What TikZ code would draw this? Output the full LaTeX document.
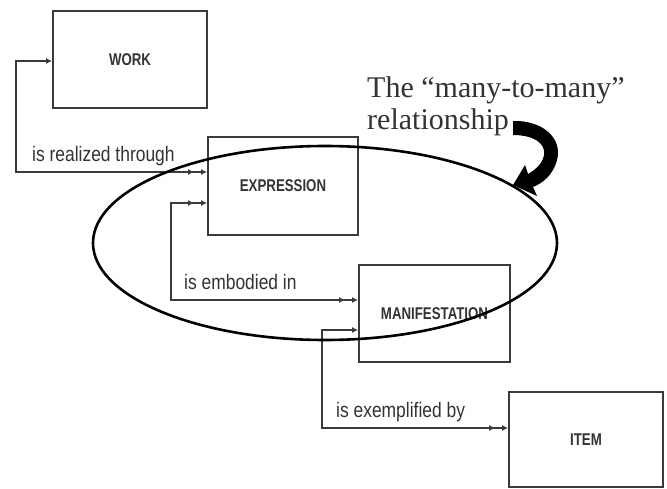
\documentclass[tikz,border=0pt]{standalone}
\usepackage{fontspec}
\setmainfont{Liberation Serif}
\newfontfamily\labsans{Liberation Sans}
\usetikzlibrary{arrows.meta}
\definecolor{ink}{HTML}{333333}
\definecolor{boxline}{HTML}{3A3A3A}
\tikzset{
  entity/.style={draw=boxline, line width=1.8pt, fill=none, inner sep=0pt,
    font=\labsans\bfseries\fontsize{17}{20}\selectfont, text=ink},
  rel/.style={font=\labsans\fontsize{21}{24}\selectfont, text=ink, inner sep=0pt, anchor=base west},
  conn/.style={draw=boxline, line width=1.5pt},
  one/.tip={Latex[length=6pt,width=6pt]},
  two/.tip={Latex[length=6pt,width=6pt,sep=7pt]Latex[length=6pt,width=6pt]},
  note/.style={font=\fontsize{30}{33}\selectfont, text=ink, inner sep=0pt, anchor=base west}
}
\newcommand{\sq}[1]{\scalebox{0.78}[1]{#1}}
\newcommand{\sqr}[1]{\scalebox{0.83}[1]{#1}}
\begin{document}
\begin{tikzpicture}[x=1pt,y=-1pt]
\useasboundingbox[fill=white] (0,0) rectangle (667,489);
% boxes
\node[entity, minimum width=154pt, minimum height=97pt] (work) at (130,59.5) {\sq{WORK}};
\node[entity, minimum width=150pt, minimum height=98pt] (expr) at (283,186) {\sq{EXPRESSION}};
\node[entity, minimum width=151pt, minimum height=97pt] (mani) at (434.5,313.5) {\sq{MANIFESTATION}};
\node[entity, minimum width=154pt, minimum height=95pt] (item) at (586,439.5) {\sq{ITEM}};
% connectors
\draw[conn, {one}-{two}] (work.west |- 0,61) -- (16,61) |- (expr.west |- 0,172);
\draw[conn, {two}-{two}] (expr.west |- 0,203) -- (171,203) |- (mani.west |- 0,300);
\draw[conn, {one}-{two}] (mani.west |- 0,330) -- (322,330) |- (item.west |- 0,428);
% labels
\node[rel] (l1) at (32,162) {\sqr{is realized through}};
\node[rel] (l2) at (184,290) {\sqr{is embodied in}};
\node[rel] (l3) at (336,417) {\sqr{is exemplified by}};
% ellipse
\draw[line width=2.6pt] (325,243) ellipse [x radius=232, y radius=97];
% note
\node[note] (n1) at (367,98) {The “many-to-many”};
\node[note] (n2) at (367,130) {relationship};
% curved arrow
\fill (513,121) .. controls (542,120) and (563,138) .. (557,160)
  .. controls (553,175) and (543,183) .. (533,187) -- (537,196) -- (513,185)
  -- (525,165) -- (528,174) .. controls (537,169) and (543,162) .. (544,155)
  .. controls (546,143) and (533,135) .. (513,135) -- cycle;
\end{tikzpicture}
\end{document}
